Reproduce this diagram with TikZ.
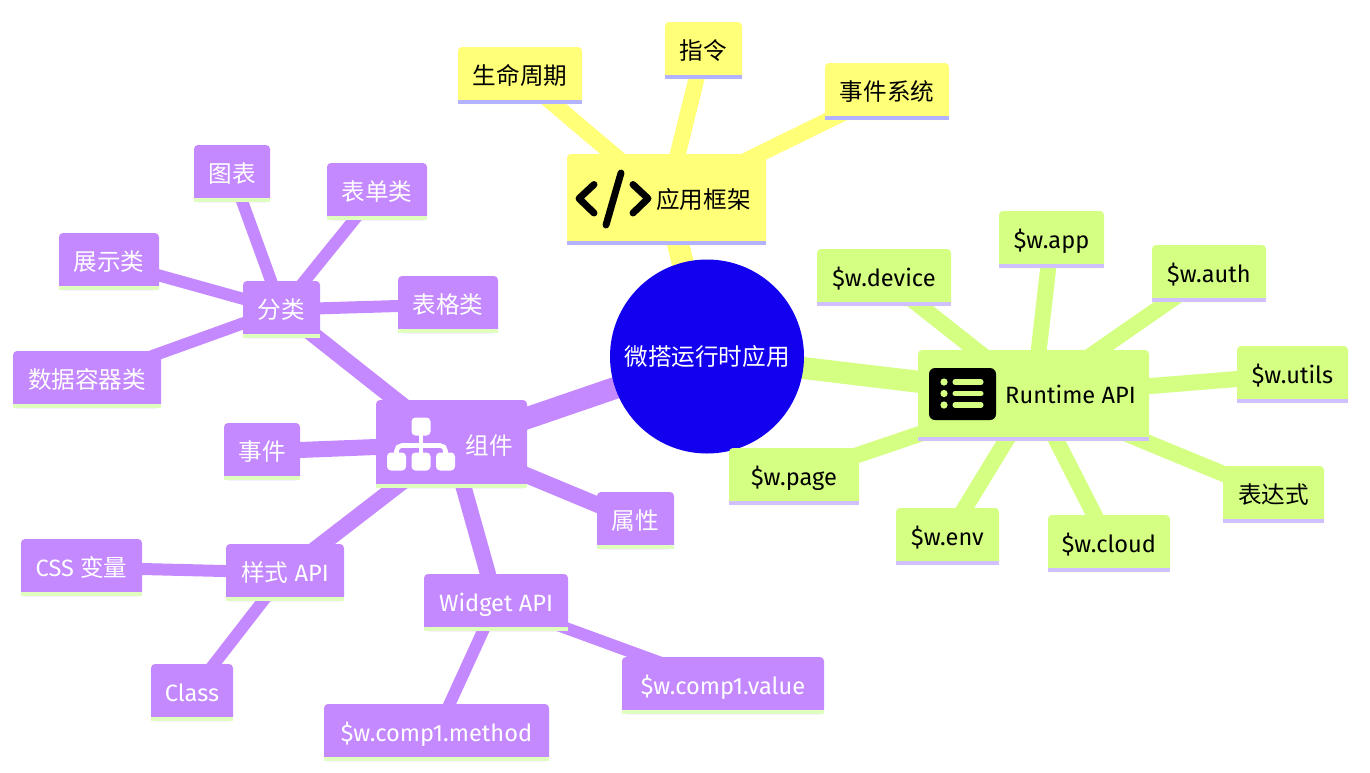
\documentclass[tikz,border=0pt]{standalone}
\usepackage{fontspec}
\setmainfont{Fira Sans}
\newfontfamily\cjk{Noto Sans CJK SC}
\usetikzlibrary{backgrounds}
\definecolor{rootblue}{RGB}{18, 0, 238}
\definecolor{appyellow}{RGB}{255, 255, 120}
\definecolor{appstrip}{RGB}{178, 178, 255}
\definecolor{apigreen}{RGB}{212, 255, 130}
\definecolor{apistrip}{RGB}{208, 192, 255}
\definecolor{compviolet}{RGB}{196, 136, 255}
\definecolor{compstrip}{RGB}{224, 255, 190}
\newcommand{\zh}[1]{{\cjk #1}}
\tikzset{
    maptext/.style={font=\fontsize{17.7}{21}\selectfont, text height=17pt, text depth=3.2pt},
    mapnode/.style={maptext, rectangle, rounded corners=3pt, inner sep=0pt, minimum height=42.75pt},
    rootedge/.style={line width=16.5pt},
    midedge/.style={line width=12pt},
    leafedge/.style={line width=9pt},
}

\begin{document}
\begin{tikzpicture}[x=0.75pt, y=-0.75pt]
    \useasboundingbox (0, 0) rectangle (1370, 772);

    % Root
    \node[maptext, circle, fill=rootblue, minimum size=145.5pt, inner sep=0pt, text=white] (root) at (707, 356.5) {\zh{微搭运行时应用}};

    % Branch 1: app framework
    \node[mapnode, fill=appyellow, minimum width=149.25pt, minimum height=68.25pt] (frame) at (666.5, 199.5) {};
    \fill[appstrip] (frame.south west) rectangle ([yshift=3.4pt]frame.south east);
    \node[maptext] (framelabel) at (703.5, 199.5) {\zh{应用框架}};
    \draw[line width=5.2pt, line cap=round, line join=round] (594, 184.5) -- (579, 198.5) -- (594, 213);
    \draw[line width=5.2pt, line cap=round, line join=round] (633, 184.5) -- (648, 198.5) -- (633, 213);
    \draw[line width=5.2pt, line cap=round] (621, 173) -- (606, 225);
    \begin{pgfonlayer}{background}
        \draw[rootedge, appyellow] (root.center) -- (frame.center);
    \end{pgfonlayer}
    \foreach \id/\cx/\cy/\w/\txt in {
        life/520/75.5/124/{\zh{生命周期}},
        directive/703.5/50.5/77/{\zh{指令}},
        eventsys/887/91.5/124/{\zh{事件系统}}
    } {
        \node[mapnode, fill=appyellow, minimum width={\w*0.75pt}] (\id) at (\cx, \cy) {\txt};
        \fill[appstrip] (\id.south west) rectangle ([yshift=3.4pt]\id.south east);
        \begin{pgfonlayer}{background}
            \draw[midedge, appyellow] (frame.center) -- (\id.center);
        \end{pgfonlayer}
    }

    % Branch 2: runtime api
    \node[mapnode, fill=apigreen, minimum width=173.25pt, minimum height=68.25pt] (runtime) at (1033.5, 395.5) {};
    \fill[apistrip] (runtime.south west) rectangle ([yshift=3.4pt]runtime.south east);
    \node[maptext] (runtimelabel) at (1070.5, 394.5) {Runtime API};
    \fill[rounded corners=4.5pt] (929, 368) rectangle (996, 420);
    \foreach \iy in {382, 393.5, 405} {
        \fill[apigreen] (944, \iy) circle[radius=3.6];
        \draw[apigreen, line width=3.8pt, line cap=round] (955, \iy) -- (981, \iy);
    }
    \begin{pgfonlayer}{background}
        \draw[rootedge, apigreen] (root.center) -- (runtime.center);
    \end{pgfonlayer}
    \foreach \id/\cx/\cy/\w/\txt in {
        device/884/277.5/134/{\$w.device},
        wapp/1051.5/239.5/105/{\$w.app},
        auth/1209/273.5/114/{\$w.auth},
        utils/1292.5/374.5/111/{\$w.utils},
        express/1273.5/494.5/101/{\zh{表达式}},
        cloud/1109/543.5/122/{\$w.cloud},
        env/947.5/536.5/103/{\$w.env},
        wpage/794/476.5/130/{\$w.page}
    } {
        \node[mapnode, fill=apigreen, minimum width={\w*0.75pt}] (\id) at (\cx, \cy) {\txt};
        \fill[apistrip] (\id.south west) rectangle ([yshift=3.4pt]\id.south east);
        \begin{pgfonlayer}{background}
            \draw[midedge, apigreen] (runtime.center) -- (\id.center);
        \end{pgfonlayer}
    }

    % Branch 3: components
    \node[mapnode, fill=compviolet, minimum width=113.25pt, minimum height=66pt] (comp) at (451.5, 444) {};
    \fill[compstrip] (comp.south west) rectangle ([yshift=3.4pt]comp.south east);
    \node[maptext, text=white] (complabel) at (489, 445) {\zh{组件}};
    \foreach \ix/\iy in {421/426.5, 396.5/461.5, 421/461.5, 445.5/461.5} {
        \fill[white, rounded corners=3pt] (\ix-9.5, \iy-9) rectangle (\ix+9.5, \iy+9);
    }
    \draw[white, line width=3.4pt] (421, 435) -- (421, 455);
    \draw[white, line width=3.4pt, rounded corners=4pt] (396.5, 455) -- (396.5, 445.5) -- (445.5, 445.5) -- (445.5, 455);
    \begin{pgfonlayer}{background}
        \draw[rootedge, compviolet] (root.center) -- (comp.center);
    \end{pgfonlayer}
    \foreach \id/\cx/\cy/\w/\txt in {
        attr/635.5/520.5/77/{\zh{属性}},
        compevent/262/451.5/76/{\zh{事件}},
        category/281.5/309.5/77/{\zh{分类}},
        cssapi/285/572.5/118/{\zh{样式} API},
        widget/496/602.5/144/{Widget API}
    } {
        \node[mapnode, fill=compviolet, text=white, minimum width={\w*0.75pt}] (\id) at (\cx, \cy) {\txt};
        \fill[compstrip] (\id.south west) rectangle ([yshift=3.4pt]\id.south east);
        \begin{pgfonlayer}{background}
            \draw[midedge, compviolet] (comp.center) -- (\id.center);
        \end{pgfonlayer}
    }

    % Leaves of the component branch
    \foreach \id/\up/\cx/\cy/\w/\txt in {
        chart/category/232/173.5/76/{\zh{图表}},
        form/category/377/191.5/100/{\zh{表单类}},
        display/category/109/261.5/100/{\zh{展示类}},
        grid/category/448/304.5/100/{\zh{表格类}},
        container/category/87/379.5/148/{\zh{数据容器类}},
        cssvar/cssapi/81.5/567.5/121/{CSS \zh{变量}},
        cssclass/cssapi/192/692.5/82/{Class},
        value/widget/723/685.5/202/{\$w.comp1.value},
        method/widget/436.5/732.5/225/{\$w.comp1.method}
    } {
        \node[mapnode, fill=compviolet, text=white, minimum width={\w*0.75pt}] (\id) at (\cx, \cy) {\txt};
        \fill[compstrip] (\id.south west) rectangle ([yshift=3.4pt]\id.south east);
        \begin{pgfonlayer}{background}
            \draw[leafedge, compviolet] (\up.center) -- (\id.center);
        \end{pgfonlayer}
    }
\end{tikzpicture}
\end{document}
